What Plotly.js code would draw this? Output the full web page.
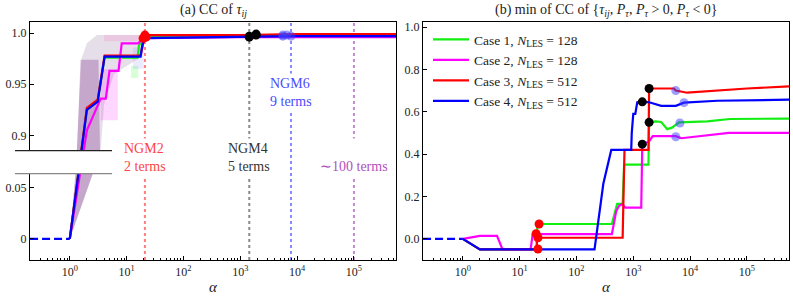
<!DOCTYPE html>
<html><head><meta charset="utf-8">
<script src="https://cdn.plot.ly/plotly-3.0.1.min.js"></script>
<style>html,body{margin:0;padding:0;background:#fff}#chart{width:793px;height:297px}</style>
</head><body><div id="chart"></div>
<script>
// ---------- data ----------
const alphaTicks = [1, 10, 100, 1000, 10000, 100000];
const alphaTickText = ['10<sup>0</sup>','10<sup>1</sup>','10<sup>2</sup>','10<sup>3</sup>','10<sup>4</sup>','10<sup>5</sup>'];
const leftYTicks = [0, 0.05, 0.9, 0.95, 1.0];
const leftYTickText = ['0', '0.05', '0.9', '0.95', '1.0'];
const rightYTicks = [0, 0.2, 0.4, 0.6, 0.8, 1.0];
const rightYTickText = ['0.0', '0.2', '0.4', '0.6', '0.8', '1.0'];

const caseNames = ['Case 1, <i>N</i><sub>LES</sub> = 128', 'Case 2, <i>N</i><sub>LES</sub> = 128',
                   'Case 3, <i>N</i><sub>LES</sub> = 512', 'Case 4, <i>N</i><sub>LES</sub> = 512'];
const caseColors = ['#11ee11', '#ff00ff', '#ff0000', '#0000ff'];

// dashed lead-in (alpha < 1)
const preAlpha = [0.2, 1];
const preVal = [0, 0];

// (a) CC of tau_ij
const ccAlpha = [
  [1, 2, 3.1, 4.1, 15.6, 16.5, 21, 1000, 10000, 550000],
  [1, 2, 3.5, 4.3, 5, 7.2, 8.2, 16, 19.5, 1000, 550000],
  [1, 2, 3.1, 4.1, 17.6, 21, 1000, 10000, 550000],
  [1, 2, 3.1, 4.1, 17.6, 19, 21, 1000, 10000, 550000]
];
const ccVal = [
  [0, 0.926, 0.934, 0.976, 0.976, 0.988, 0.996, 0.997, 0.998, 0.998],
  [0, 0.905, 0.936, 0.936, 0.963, 0.963, 0.990, 0.990, 0.995, 0.996, 0.996],
  [0, 0.927, 0.935, 0.978, 0.978, 0.998, 0.998, 0.999, 0.999],
  [0, 0.925, 0.933, 0.977, 0.977, 0.989, 0.995, 0.996, 0.997, 0.997]
];

// (b) min of CC
const minAlpha = [
  [1, 2, 20, 20.5, 420, 520, 650, 690, 1850, 1900, 2450, 3100, 3960, 4800, 6400, 20000, 50000, 550000],
  [1, 2, 4, 5, 15.6, 17, 420, 500, 560, 640, 720, 1380, 1440, 1900, 2200, 5600, 7000, 48000, 550000],
  [1, 2, 20, 20.2, 650, 700, 1850, 1900, 5200, 5600, 8900, 15000, 100000, 550000],
  [1, 2, 208, 297, 410, 920, 940, 1000, 1085, 1175, 1440, 1900, 3100, 5600, 7800, 30000, 550000]
];
const minVal = [
  [0, -0.05, -0.05, 0.07, 0.07, 0.165, 0.165, 0.35, 0.35, 0.55, 0.555, 0.552, 0.518, 0.525, 0.55, 0.555, 0.566, 0.568],
  [0, 0.014, 0.014, -0.05, -0.05, 0.022, 0.022, 0.13, 0.155, 0.165, 0.147, 0.147, 0.447, 0.46, 0.485, 0.485, 0.475, 0.50, 0.50],
  [0, -0.05, -0.05, 0.005, 0.005, 0.42, 0.42, 0.71, 0.71, 0.70, 0.69, 0.695, 0.71, 0.72],
  [0, -0.05, -0.05, 0.26, 0.42, 0.42, 0.50, 0.59, 0.59, 0.645, 0.647, 0.645, 0.628, 0.628, 0.643, 0.652, 0.657]
];

// model markers: NGM2 (red), NGM4 (black), NGM6 (blue), per case
const ngm2Alpha = [22, 19.5, 21, 21];
const ngm4Alpha = [1900, 1440, 1900, 1440];
const ngm6Alpha = [6600, 5600, 5600, 7800];
const ngm2CC = [0.996, 0.995, 0.998, 0.996];
const ngm4CC = [0.998, 0.997, 0.999, 0.996];
const ngm6CC = [0.998, 0.997, 0.998, 0.997];
const ngm2Min = [0.07, 0.024, 0.005, -0.048];
const ngm4Min = [0.55, 0.447, 0.71, 0.647];
const ngm6Min = [0.547, 0.482, 0.70, 0.643];

// reference lines for model families
const familyAlpha = [21, 1440, 7800, 100000];
const familyLabel = ['NGM2<br>2 terms', 'NGM4<br>5 terms', 'NGM6<br>9 terms', '&nbsp;<br>∼100 terms'];
const familyLineColor = ['rgba(255,40,40,0.6)', 'rgba(60,60,60,0.6)', 'rgba(40,40,255,0.55)', 'rgba(150,40,170,0.55)'];
const familyTextColor = ['#ff4444', '#333333', '#4a4aff', '#b050c0'];
const familyTextY = [157, 157, 92, 157];

// spread bands in (a): polygons
const bandSpreadAlpha = [1, 1.3, 1.6, 2, 3, 21, 21, 16, 6, 4, 3.5, 3, 1];
const bandSpreadVal   = [0, 0.5, 0.975, 0.99, 0.998, 0.998, 0.99, 0.975, 0.96, 0.93, 0.885, 0.5, 0];
const bandCoreAlpha = [1, 1.3, 1.55, 3.2, 3.4, 2.8, 1];
const bandCoreVal   = [0, 0.3, 0.974, 0.974, 0.885, 0.3, 0];
const bandPinkAlpha = [3.5, 7, 7, 3.5];
const bandPinkVal   = [0.965, 0.965, 0.915, 0.915];
const bandGreenAlpha = [12, 16, 16, 12];
const bandGreenVal   = [0.968, 0.968, 0.956, 0.956];
const bandBlueAlpha = [13, 20, 20, 13];
const bandBlueVal   = [0.986, 0.986, 0.965, 0.965];
const bandTopAlpha = [4, 21, 21, 4];
const bandTopVal   = [0.998, 0.998, 0.992, 0.992];

// ---------- broken y scale for (a) ----------
const BRK_LO = 0.0637, BRK_HI = 0.8853, BRK_GAP = 0.02255;
function brk(v) {
  if (v <= BRK_LO) return v;
  if (v >= BRK_HI) return v - BRK_HI + BRK_LO + BRK_GAP;
  return BRK_LO + (v - BRK_LO) / (BRK_HI - BRK_LO) * BRK_GAP;
}
const leftRange = [-0.0206, brk(1.0108)];
const rightRange = [-0.1, 1.024];

const FONT = 'Liberation Serif, Times New Roman, serif';
const traces = [];

function band(ax, vals, color) {
  traces.push({x: ax, y: vals.map(brk), xaxis: 'x', yaxis: 'y', mode: 'lines', fill: 'toself',
    fillcolor: color, line: {width: 0}, hoverinfo: 'skip', showlegend: false});
}
band(bandSpreadAlpha, bandSpreadVal, 'rgba(140,110,160,0.22)');
band(bandCoreAlpha, bandCoreVal, 'rgba(120,40,130,0.30)');
band(bandPinkAlpha, bandPinkVal, 'rgba(255,0,255,0.16)');
band(bandGreenAlpha, bandGreenVal, 'rgba(0,255,0,0.16)');
band(bandBlueAlpha, bandBlueVal, 'rgba(60,60,255,0.10)');
band(bandTopAlpha, bandTopVal, 'rgba(255,120,200,0.22)');

// vertical family lines
familyAlpha.forEach((a, i) => {
  traces.push({x: [a, a], y: leftRange, xaxis: 'x', yaxis: 'y', mode: 'lines',
    line: {color: familyLineColor[i], width: 2, dash: 'dot'}, hoverinfo: 'skip', showlegend: false});
});

// curves (a)
for (let i = 0; i < 4; i++) {
  traces.push({x: ccAlpha[i], y: ccVal[i].map(brk), xaxis: 'x', yaxis: 'y', mode: 'lines',
    line: {color: caseColors[i], width: 2.2}, showlegend: false});
}
traces.push({x: preAlpha, y: preVal.map(brk), xaxis: 'x', yaxis: 'y', mode: 'lines',
  line: {color: caseColors[3], width: 2.2, dash: '8px,4px'}, showlegend: false});

// curves (b)
for (let i = 0; i < 4; i++) {
  traces.push({x: minAlpha[i], y: minVal[i], xaxis: 'x2', yaxis: 'y2', mode: 'lines', name: caseNames[i],
    line: {color: caseColors[i], width: 2.2}, showlegend: true});
}
traces.push({x: preAlpha, y: preVal, xaxis: 'x2', yaxis: 'y2', mode: 'lines',
  line: {color: caseColors[3], width: 2.2, dash: '8px,4px'}, showlegend: false});

// markers
function dots(ax, vals, xa, ya, color, map) {
  traces.push({x: ax, y: map ? vals.map(map) : vals, xaxis: xa, yaxis: ya, mode: 'markers',
    marker: {color: color, size: 9, line: {width: 0}}, showlegend: false, cliponaxis: false});
}
dots(ngm2Alpha, ngm2CC, 'x', 'y', '#ff0000', brk);
dots(ngm4Alpha, ngm4CC, 'x', 'y', '#000000', brk);
dots(ngm6Alpha, ngm6CC, 'x', 'y', 'rgba(60,60,255,0.5)', brk);
dots(ngm2Alpha, ngm2Min, 'x2', 'y2', '#ff0000');
dots(ngm4Alpha, ngm4Min, 'x2', 'y2', '#000000');
dots(ngm6Alpha, ngm6Min, 'x2', 'y2', 'rgba(60,60,255,0.5)');

// ---------- layout ----------
const L = 30, R = 4, T = 22, B = 37, W = 793, H = 297;
const pw = W - L - R, ph = H - T - B;
const xAxisBase = {
  type: 'log', range: [-0.70, 5.74], showline: true, mirror: true, linecolor: '#000', linewidth: 1.2,
  ticks: 'inside', ticklen: 4, tickcolor: '#000', tickvals: alphaTicks, ticktext: alphaTickText,
  minor: {ticks: 'inside', ticklen: 2.2, tickcolor: '#000', dtick: 'D1', showgrid: false},
  showgrid: false, zeroline: false, tickfont: {family: FONT, size: 12, color: '#222'}, fixedrange: true
};
const yAxisBase = {
  showline: true, mirror: true, linecolor: '#000', linewidth: 1.2, ticks: 'inside', ticklen: 4,
  tickcolor: '#000', showgrid: false, zeroline: false, tickfont: {family: FONT, size: 12, color: '#222'}, fixedrange: true
};
const paperX = px => (px - L) / pw;
const paperY = py => 1 - (py - T) / ph;
const brkLoPaper = (BRK_LO - leftRange[0]) / (leftRange[1] - leftRange[0]);
const brkHiPaper = (brk(BRK_HI) - leftRange[0]) / (leftRange[1] - leftRange[0]);

const txt = (text, px, py, size, color) => ({text: text, xref: 'paper', yref: 'paper', x: paperX(px), y: paperY(py),
  xanchor: 'center', yanchor: 'middle', showarrow: false, font: {family: FONT, size: size, color: color}});
const annotations = [
  txt('(a) CC of <i>τ</i><sub><i>ij</i></sub>', 213, 11, 14, '#222'),
  txt('(b) min of CC of {<i>τ</i><sub><i>ij</i></sub>, <i>P</i><sub><i>τ</i></sub>, <i>P</i><sub><i>τ</i></sub> &gt; 0, <i>P</i><sub><i>τ</i></sub> &lt; 0}', 606, 11, 14, '#222'),
  txt('<i>α</i>', 213, 287, 15, '#222'),
  txt('<i>α</i>', 606, 287, 15, '#222')
];
familyAlpha.forEach((a, i) => {
  annotations.push({text: familyLabel[i], xref: 'x', yref: 'paper', x: Math.log10(a), y: paperY(familyTextY[i]),
    xanchor: 'center', yanchor: 'middle', showarrow: false, bgcolor: '#ffffff', borderpad: 2, align: 'left',
    font: {family: FONT, size: 14, color: familyTextColor[i]}});
});

const layout = {
  width: W, height: H, margin: {l: L, r: R, t: T, b: B},
  paper_bgcolor: '#fff', plot_bgcolor: '#fff', showlegend: true,
  xaxis: Object.assign({}, xAxisBase, {domain: [0, paperX(396)], anchor: 'y'}),
  yaxis: Object.assign({}, yAxisBase, {domain: [0, 1], anchor: 'x', range: leftRange,
    tickvals: leftYTicks.map(brk), ticktext: leftYTickText}),
  xaxis2: Object.assign({}, xAxisBase, {domain: [paperX(423), 1], anchor: 'y2'}),
  yaxis2: Object.assign({}, yAxisBase, {domain: [0, 1], anchor: 'x2', range: rightRange,
    tickvals: rightYTicks, ticktext: rightYTickText}),
  legend: {x: paperX(428), y: paperY(24), xanchor: 'left', yanchor: 'top', bgcolor: 'rgba(255,255,255,0)',
    font: {family: FONT, size: 13.5, color: '#222'}, tracegroupgap: 0, itemwidth: 36},
  annotations: annotations,
  shapes: [
    {type: 'rect', xref: 'paper', yref: 'paper', x0: paperX(15), x1: paperX(112), y0: brkLoPaper, y1: brkHiPaper,
     fillcolor: '#fff', line: {width: 0}, layer: 'above'},
    {type: 'line', xref: 'paper', yref: 'paper', x0: paperX(15), x1: paperX(112), y0: brkHiPaper, y1: brkHiPaper,
     line: {color: '#222', width: 1.2}, layer: 'above'},
    {type: 'line', xref: 'paper', yref: 'paper', x0: paperX(15), x1: paperX(112), y0: brkLoPaper, y1: brkLoPaper,
     line: {color: '#888', width: 1.2}, layer: 'above'}
  ]
};
Plotly.newPlot('chart', traces, layout, {staticPlot: true, displayModeBar: false});
</script></body></html>
